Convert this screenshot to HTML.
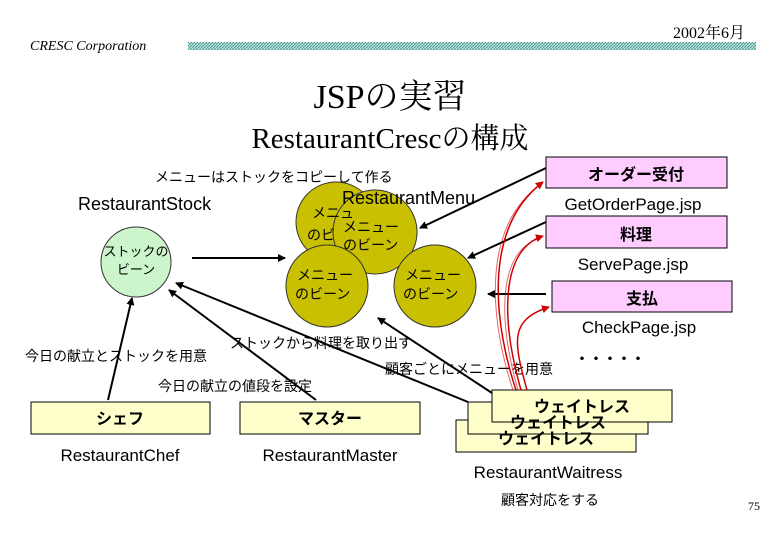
<!DOCTYPE html>
<html><head><meta charset="utf-8"><style>
html,body{margin:0;padding:0;background:#fff;}
svg{display:block;}
text{font-family:"Liberation Sans","Noto Sans CJK JP",sans-serif;fill:#000;}
.s{font-family:"Liberation Serif","Noto Serif CJK SC",serif;}
.b{font-weight:bold;}
</style></head><body>
<svg width="780" height="540" viewBox="0 0 780 540" xmlns="http://www.w3.org/2000/svg">
<defs>
<pattern id="hat" width="3" height="3" patternUnits="userSpaceOnUse">
<rect width="3" height="3" fill="#bfe3dd"/><path d="M0 3L3 0" stroke="#4a9a90" stroke-width="1"/>
</pattern>
<marker id="ah" markerWidth="8" markerHeight="8" refX="7" refY="4" orient="auto" markerUnits="userSpaceOnUse"><path d="M0 0L8 4L0 8z" fill="#000"/></marker>
<marker id="ar" markerWidth="8" markerHeight="8" refX="7" refY="4" orient="auto" markerUnits="userSpaceOnUse"><path d="M0 0L8 4L0 8z" fill="#d00000"/></marker>
</defs>
<text x="30" y="50" class="s" font-style="italic" font-size="14">CRESC Corporation</text>
<rect x="188" y="42" width="568" height="8" fill="url(#hat)"/>
<text x="745" y="38" class="s" font-size="16" text-anchor="end">2002年6月</text>
<text x="390" y="108" class="s" font-size="34" text-anchor="middle">JSPの実習</text>
<text x="390" y="148" class="s" font-size="29" text-anchor="middle">RestaurantCrescの構成</text>

<text x="155" y="182" font-size="14">メニューはストックをコピーして作る</text>
<text x="78" y="210" font-size="18">RestaurantStock</text>
<circle cx="136" cy="262" r="35" fill="#ccf5cc" stroke="#333" stroke-width="1"/>
<text x="136" y="256" font-size="13" text-anchor="middle">ストックの</text>
<text x="136" y="274" font-size="13" text-anchor="middle">ビーン</text>

<g fill="#c8c000" stroke="#333" stroke-width="1" font-size="14">
<circle cx="336" cy="222" r="40"/>
<circle cx="375" cy="232" r="42"/>
<circle cx="327" cy="286" r="41"/>
<circle cx="435" cy="286" r="41"/>
</g>
<text x="312" y="218" font-size="14">メニュ</text>
<text x="307" y="240" font-size="14">のビ</text>
<text x="343" y="232" font-size="14">メニュー</text>
<text x="343" y="250" font-size="14">のビーン</text>
<text x="297" y="280" font-size="14">メニュー</text>
<text x="295" y="299" font-size="14">のビーン</text>
<text x="405" y="280" font-size="14">メニュー</text>
<text x="403" y="299" font-size="14">のビーン</text>
<text x="342" y="204" font-size="18">RestaurantMenu</text>

<g fill="#ffccff" stroke="#000" stroke-width="1">
<rect x="546" y="157" width="181" height="31"/>
<rect x="546" y="216" width="181" height="32"/>
<rect x="552" y="281" width="180" height="31"/>
</g>
<text x="636" y="180" font-size="16" class="b" text-anchor="middle">オーダー受付</text>
<text x="636" y="240" font-size="16" class="b" text-anchor="middle">料理</text>
<text x="642" y="304" font-size="16" class="b" text-anchor="middle">支払</text>
<text x="633" y="210" font-size="17" text-anchor="middle">GetOrderPage.jsp</text>
<text x="633" y="270" font-size="17" text-anchor="middle">ServePage.jsp</text>
<text x="639" y="333" font-size="17" text-anchor="middle">CheckPage.jsp</text>
<text x="610" y="364" font-size="14" class="b" text-anchor="middle">・・・・・</text>

<g fill="#ffffcc" stroke="#000" stroke-width="1">
<rect x="31" y="402" width="179" height="32"/>
<rect x="240" y="402" width="180" height="32"/>
<rect x="456" y="420" width="180" height="32"/>
<rect x="468" y="402" width="180" height="32"/>
<rect x="492" y="390" width="180" height="32"/>
</g>
<text x="120" y="424" font-size="16" class="b" text-anchor="middle">シェフ</text>
<text x="330" y="424" font-size="16" class="b" text-anchor="middle">マスター</text>
<text x="546" y="444" font-size="16" class="b" text-anchor="middle">ウェイトレス</text>
<text x="558" y="428" font-size="16" class="b" text-anchor="middle">ウェイトレス</text>
<text x="582" y="412" font-size="16" class="b" text-anchor="middle">ウェイトレス</text>
<text x="120" y="461" font-size="17" text-anchor="middle">RestaurantChef</text>
<text x="330" y="461" font-size="17" text-anchor="middle">RestaurantMaster</text>
<text x="548" y="478" font-size="17" text-anchor="middle">RestaurantWaitress</text>
<text x="550" y="505" font-size="14" text-anchor="middle">顧客対応をする</text>
<text x="760" y="510" font-size="12" class="s" text-anchor="end">75</text>

<g stroke="#000" stroke-width="2" fill="none" marker-end="url(#ah)">
<line x1="192" y1="258" x2="285" y2="258"/>
<line x1="108" y1="400" x2="132" y2="298"/>
<line x1="316" y1="400" x2="169" y2="290"/>
<line x1="468" y1="402" x2="176" y2="283"/>
<line x1="492" y1="393" x2="378" y2="318"/>
<line x1="546" y1="168" x2="420" y2="228"/>
<line x1="546" y1="222" x2="468" y2="258"/>
<line x1="546" y1="294" x2="488" y2="294"/>
</g>
<text x="25" y="361" font-size="14">今日の献立とストックを用意</text>
<text x="230" y="348" font-size="14">ストックから料理を取り出す</text>
<text x="385" y="374" font-size="14">顧客ごとにメニューを用意</text>
<text x="158" y="391" font-size="14">今日の献立の値段を設定</text>

<g stroke="#d00000" stroke-width="1.5" fill="none" marker-end="url(#ar)">
<path d="M516 390C496 330 480 230 543 182"/>
<path d="M521 390C501 320 500 250 543 236"/>
<path d="M527 390C513 340 510 320 549 307"/>
</g>
<g stroke="#d00000" stroke-width="1" fill="none" opacity="0.6">
<path d="M513 390C493 330 477 230 541 184"/>
<path d="M518 390C498 320 497 250 541 238"/>
</g>
</svg>
</body></html>
